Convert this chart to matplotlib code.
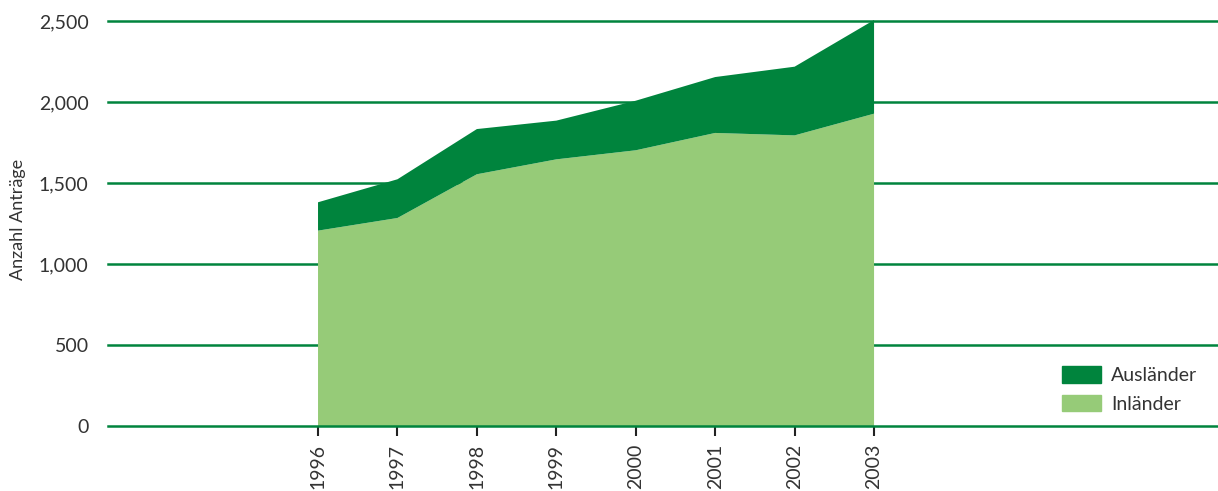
import matplotlib.pyplot as plt
from matplotlib.patches import Patch

# data
years = [1996, 1997, 1998, 1999, 2000, 2001, 2002, 2003]
inlaender = [1206, 1284, 1554, 1646, 1702, 1809, 1794, 1928]
auslaender = [175, 239, 279, 239, 306, 345, 424, 578]
yticks = [0, 500, 1000, 1500, 2000, 2500]

dark = '#00843D'
light = '#96CB78'

plt.rcParams['font.family'] = ['Lato', 'DejaVu Sans']

fig = plt.figure(figsize=(12.18, 4.91), dpi=100)
ax = fig.add_axes([108 / 1218, 65 / 491, 1 - 108 / 1218, (426 - 12.9) / 491])

ax.stackplot(years, inlaender, auslaender, colors=[light, dark], linewidth=0, zorder=2)

for v in yticks:
    ax.axhline(v, color=dark, lw=1.8, zorder=1 if v else 3, clip_on=False)

ax.set_xlim(1993.356, 2007.33)
ax.set_ylim(0, 2550)
ax.set_xticks(years)
ax.set_xticklabels([str(y) for y in years], rotation=90, fontsize=14, color='#333333')
ax.set_yticks(yticks)
ax.set_yticklabels([f'{v:,}' for v in yticks], fontsize=14, color='#333333')
ax.tick_params(axis='x', direction='out', length=7, width=1.5, color='#222222', pad=6)
ax.tick_params(axis='y', length=0, pad=14)
for s in ax.spines.values():
    s.set_visible(False)

ax.set_ylabel('Anzahl Anträge', fontsize=13, color='#333333', labelpad=9)

handles = [Patch(color=dark, label='Ausländer'), Patch(color=light, label='Inländer')]
ax.legend(handles=handles, loc='lower right', bbox_to_anchor=(0.997, -0.01), frameon=False,
          fontsize=14, handlelength=2.0, handleheight=0.9, handletextpad=0.5, labelspacing=0.55,
          labelcolor='#333333')

plt.savefig('out.png', dpi=100)
